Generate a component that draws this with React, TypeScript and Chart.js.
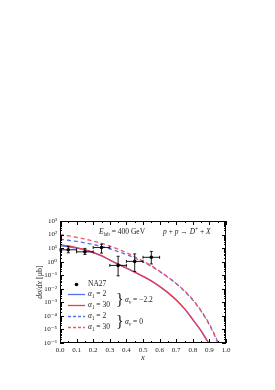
import React, { useEffect, useRef } from "react";
import { Chart, registerables } from "chart.js";
Chart.register(...registerables);

// ---- data ----
const solidX = [0, 0.05, 0.1, 0.15, 0.2, 0.25, 0.3, 0.35, 0.4, 0.45, 0.5, 0.55, 0.6, 0.65, 0.7, 0.75, 0.8, 0.85, 0.88, 0.9, 0.92];
const blueSolid = [14.5, 12.5, 10, 7.1, 4.6, 2.65, 1.3, 0.65, 0.335, 0.168, 0.082, 0.0375, 0.0148, 5.1e-3, 1.47e-3, 3.3e-4, 5.3e-5, 7.7e-6, 1.95e-6, 7.8e-7, 1.9e-7];
const redSolid = [17.4, 14.5, 11, 7.6, 4.8, 2.75, 1.32, 0.66, 0.34, 0.17, 0.083, 0.038, 0.015, 5.2e-3, 1.5e-3, 3.4e-4, 5.4e-5, 7.9e-6, 2e-6, 8e-7, 2e-7];
const dashX = [0, 0.05, 0.1, 0.15, 0.2, 0.25, 0.3, 0.35, 0.4, 0.45, 0.5, 0.55, 0.6, 0.65, 0.7, 0.75, 0.8, 0.85, 0.9, 0.925, 0.95, 0.97];
const blueDash = [45, 38, 31, 24.5, 18.6, 13.2, 8.9, 5.6, 3.3, 1.86, 0.95, 0.45, 0.186, 0.071, 0.0234, 6.6e-3, 1.45e-3, 2.2e-4, 2.2e-5, 5.2e-6, 1e-6, 2e-7];
const redDash = [100, 81, 63, 47, 33, 22.4, 14.1, 8.3, 4.6, 2.3, 1.12, 0.5, 0.2, 0.076, 0.025, 7.1e-3, 1.6e-3, 2.5e-4, 2.5e-5, 6.3e-6, 1.26e-6, 2.5e-7];

const na27X = [0.05, 0.15, 0.25, 0.35, 0.45, 0.55];
const na27Y = [7.5, 5.3, 11, 0.53, 1.05, 2.1];
const na27Lo = [4.5, 3.4, 4.3, 0.09, 0.19, 0.68];
const na27Hi = [13.3, 9.5, 19.5, 2.5, 3.7, 5.7];
const na27XErr = [0.05, 0.05, 0.05, 0.05, 0.05, 0.05];

const yTickExps = [-6, -5, -4, -3, -2, -1, 0, 1, 2, 3];
const xTickVals = [0, 0.1, 0.2, 0.3, 0.4, 0.5, 0.6, 0.7, 0.8, 0.9, 1.0];

const BLUE = "rgb(85,115,240)";
const RED = "rgb(235,60,85)";
const RED_D = "rgb(245,85,95)";
const SERIF = "'Liberation Serif', 'DejaVu Serif', serif";

const supMap: Record<string, string> = { "-": "\u207B", "0": "\u2070", "1": "\u00B9", "2": "\u00B2", "3": "\u00B3", "4": "\u2074", "5": "\u2075", "6": "\u2076", "7": "\u2077", "8": "\u2078", "9": "\u2079" };
const sup = (s: string) => s.split("").map((c) => supMap[c] || c).join("");

type Seg = { t: string; it?: boolean; sub?: boolean; sp?: boolean };
function drawSegs(ctx: CanvasRenderingContext2D, segs: Seg[], x: number, y: number, size: number) {
  let cx = x;
  ctx.textBaseline = "middle";
  ctx.textAlign = "left";
  for (const s of segs) {
    const fs = s.sub || s.sp ? size * 0.68 : size;
    ctx.font = `${s.it ? "italic " : ""}${fs}px ${SERIF}`;
    const dy = s.sub ? size * 0.3 : s.sp ? -size * 0.35 : 0;
    ctx.fillText(s.t, cx, y + dy);
    cx += ctx.measureText(s.t).width;
  }
  return cx;
}

const decor = {
  id: "decor",
  afterDatasetsDraw(chart: any) {
    const ctx: CanvasRenderingContext2D = chart.ctx;
    const xs = chart.scales.x;
    const ys = chart.scales.y;
    const { left, right, top, bottom } = chart.chartArea;
    ctx.save();
    // error bars
    ctx.strokeStyle = "#000";
    ctx.lineWidth = 0.9;
    for (let i = 0; i < na27X.length; i++) {
      const px = xs.getPixelForValue(na27X[i]);
      const py = ys.getPixelForValue(na27Y[i]);
      const pl = xs.getPixelForValue(na27X[i] - na27XErr[i]);
      const pr = xs.getPixelForValue(na27X[i] + na27XErr[i]);
      const pt = ys.getPixelForValue(na27Hi[i]);
      const pb = ys.getPixelForValue(na27Lo[i]);
      ctx.beginPath();
      ctx.moveTo(pl, py); ctx.lineTo(pr, py);
      ctx.moveTo(pl, py - 1.5); ctx.lineTo(pl, py + 1.5);
      ctx.moveTo(pr, py - 1.5); ctx.lineTo(pr, py + 1.5);
      ctx.moveTo(px, pt); ctx.lineTo(px, pb);
      ctx.moveTo(px - 1.5, pt); ctx.lineTo(px + 1.5, pt);
      ctx.moveTo(px - 1.5, pb); ctx.lineTo(px + 1.5, pb);
      ctx.stroke();
    }
    // frame
    ctx.lineWidth = 1;
    ctx.strokeRect(left + 0.5, top + 0.5, right - left - 1, bottom - top - 1);
    ctx.beginPath();
    for (const v of xTickVals) {
      const p = Math.round(xs.getPixelForValue(v)) + 0.5;
      ctx.moveTo(p, bottom); ctx.lineTo(p, bottom - 4);
      ctx.moveTo(p, top); ctx.lineTo(p, top + 4);
    }
    for (let i = 0; i < xTickVals.length - 1; i++) {
      const p = Math.round(xs.getPixelForValue((xTickVals[i] + xTickVals[i + 1]) / 2)) + 0.5;
      ctx.moveTo(p, bottom); ctx.lineTo(p, bottom - 2);
      ctx.moveTo(p, top); ctx.lineTo(p, top + 2);
    }
    for (const e of yTickExps) {
      const p = Math.round(ys.getPixelForValue(Math.pow(10, e))) + 0.5;
      ctx.moveTo(left, p); ctx.lineTo(left + 4, p);
      ctx.moveTo(right, p); ctx.lineTo(right - 4, p);
      if (e < yTickExps[yTickExps.length - 1]) {
        for (let m = 2; m <= 9; m++) {
          const q = Math.round(ys.getPixelForValue(m * Math.pow(10, e))) + 0.5;
          ctx.moveTo(left, q); ctx.lineTo(left + 2, q);
          ctx.moveTo(right, q); ctx.lineTo(right - 2, q);
        }
      }
    }
    ctx.stroke();

    // annotations
    ctx.fillStyle = "#222";
    drawSegs(ctx, [{ t: "E", it: true }, { t: "lab", sub: true }, { t: " = 400 GeV" }], left + 39, top + 11, 7.5);
    drawSegs(ctx, [{ t: "p", it: true }, { t: " + " }, { t: "p", it: true }, { t: " \u2192 " }, { t: "D", it: true }, { t: "+", sp: true }, { t: " + " }, { t: "X", it: true }], left + 103, top + 11, 7.5);

    // legend
    const lx0 = left + 8, lx1 = left + 25, tx = left + 28;
    const rows = [top + 63.5, top + 73.5, top + 84.5, top + 95.5, top + 106.5];
    ctx.fillStyle = "#000";
    ctx.beginPath(); ctx.arc(left + 16.5, rows[0], 1.8, 0, Math.PI * 2); ctx.fill();
    ctx.fillStyle = "#222";
    drawSegs(ctx, [{ t: "NA27" }], tx, rows[0], 7.5);
    const styles = [
      { c: BLUE, d: [] as number[], v: "2" },
      { c: RED, d: [] as number[], v: "30" },
      { c: BLUE, d: [3, 2], v: "2" },
      { c: RED_D, d: [3, 2], v: "30" },
    ];
    styles.forEach((s, i) => {
      const y = rows[i + 1];
      ctx.strokeStyle = s.c;
      ctx.lineWidth = 1.3;
      ctx.setLineDash(s.d);
      ctx.beginPath(); ctx.moveTo(lx0, y); ctx.lineTo(lx1, y); ctx.stroke();
      ctx.setLineDash([]);
      ctx.fillStyle = "#222";
      drawSegs(ctx, [{ t: "\u03B1", it: true }, { t: "1", sub: true }, { t: " = " + s.v }], tx, y, 7.5);
    });
    // braces
    ctx.fillStyle = "#222";
    ctx.font = `16px ${SERIF}`;
    ctx.textAlign = "left";
    ctx.textBaseline = "middle";
    ctx.fillText("}", left + 56, (rows[1] + rows[2]) / 2 + 1);
    ctx.fillText("}", left + 56, (rows[3] + rows[4]) / 2 + 1);
    drawSegs(ctx, [{ t: "\u03B1", it: true }, { t: "v", sub: true, it: true }, { t: " = \u22122.2" }], left + 65, (rows[1] + rows[2]) / 2, 7.5);
    drawSegs(ctx, [{ t: "\u03B1", it: true }, { t: "v", sub: true, it: true }, { t: " = 0" }], left + 65, (rows[3] + rows[4]) / 2, 7.5);

    // axis titles
    ctx.fillStyle = "#222";
    ctx.font = `italic 8.5px ${SERIF}`;
    ctx.textAlign = "center";
    ctx.textBaseline = "middle";
    ctx.fillText("x", (left + right) / 2, bottom + 15);
    ctx.save();
    ctx.translate(left - 20, (top + bottom) / 2);
    ctx.rotate(-Math.PI / 2);
    const a = "d\u03C3/dx";
    ctx.font = `8px ${SERIF}`;
    const b = " [\u03BCb]";
    const wb = ctx.measureText(b).width;
    ctx.font = `italic 8px ${SERIF}`;
    const wa = ctx.measureText(a).width;
    drawSegs(ctx, [{ t: a, it: true }, { t: b }], -(wa + wb) / 2, 0, 8);
    ctx.restore();
    ctx.restore();
  },
};

export default function App() {
  const ref = useRef<HTMLCanvasElement>(null);
  useEffect(() => {
    if (!ref.current) return;
    const line = (xv: number[], yv: number[], color: string, dash: number[]) => ({
      type: "line" as const,
      data: xv.map((x, i) => ({ x, y: yv[i] })),
      borderColor: color,
      borderWidth: 1.3,
      borderDash: dash,
      pointRadius: 0,
      fill: false,
      cubicInterpolationMode: "monotone" as const,
      order: 2,
    });
    const chart = new Chart(ref.current, {
      type: "line",
      data: {
        datasets: [
          line(dashX, redDash, RED_D, [4, 3]),
          line(dashX, blueDash, BLUE, [4, 3]),
          line(solidX, redSolid, RED, []),
          line(solidX, blueSolid, BLUE, []),
          {
            type: "line",
            data: na27X.map((x, i) => ({ x, y: na27Y[i] })),
            showLine: false,
            pointRadius: 1.8,
            pointBackgroundColor: "#000",
            pointBorderColor: "#000",
            pointBorderWidth: 0,
            order: 1,
          } as any,
        ],
      },
      options: {
        responsive: false,
        animation: false,
        devicePixelRatio: 1,
        layout: { padding: { left: 0, top: 221, right: 49, bottom: 29 } },
        plugins: { legend: { display: false }, tooltip: { enabled: false } },
        scales: {
          x: {
            type: "linear",
            min: 0,
            max: 1,
            grid: { display: false, drawTicks: false },
            border: { display: false },
            afterBuildTicks: (s: any) => { s.ticks = xTickVals.map((v) => ({ value: v })); },
            afterFit: (s: any) => { s.height = 18; },
            ticks: {
              padding: 3,
              maxRotation: 0,
              autoSkip: false,
              color: "#222",
              font: { family: SERIF, size: 7 },
              callback: (v: any) => Number(v).toFixed(1),
            },
          },
          y: {
            type: "logarithmic",
            min: 1e-6,
            max: 1e3,
            grid: { display: false, drawTicks: false },
            border: { display: false },
            afterBuildTicks: (s: any) => { s.ticks = yTickExps.map((e) => ({ value: Math.pow(10, e) })); },
            afterFit: (s: any) => { s.width = 60; },
            ticks: {
              padding: 3,
              autoSkip: false,
              color: "#222",
              font: { family: SERIF, size: 7 },
              callback: (v: any) => "10" + sup(String(Math.round(Math.log10(Number(v))))),
            },
          },
        },
      },
      plugins: [decor],
    });
    return () => chart.destroy();
  }, []);
  return (
    <div style={{ position: "absolute", left: 0, top: 0, width: 275, height: 390 }}>
      <canvas ref={ref} width={275} height={390} />
    </div>
  );
}
